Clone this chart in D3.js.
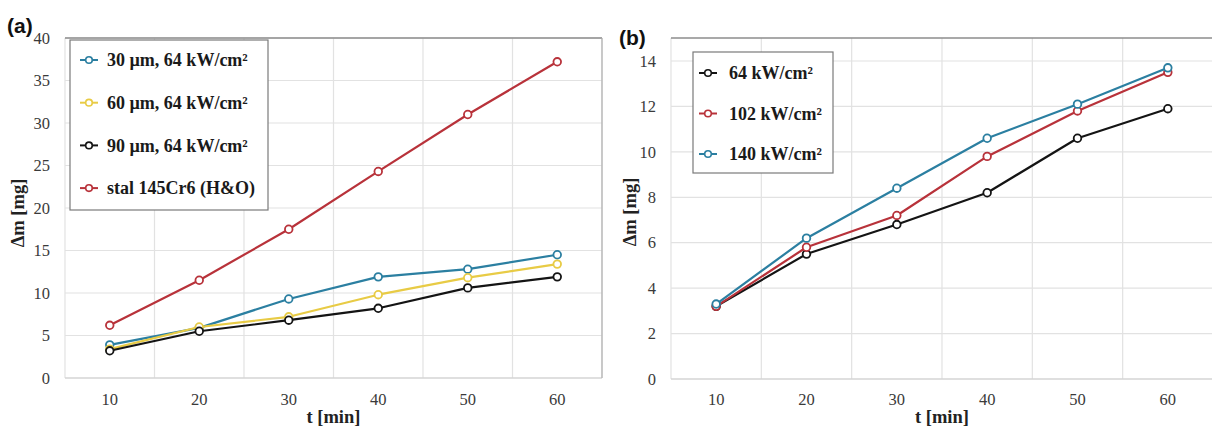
<!DOCTYPE html>
<html><head><meta charset="utf-8">
<script src="https://cdn.jsdelivr.net/npm/d3@7"></script>
<style>html,body{margin:0;padding:0;background:#fff;}svg{display:block;}</style>
</head><body>
<svg id="c" width="1212" height="426"></svg>
<script>
// ---- data ----
const times = [10, 20, 30, 40, 50, 60];
const a30um = [3.9, 5.9, 9.3, 11.9, 12.8, 14.5];
const a60um = [3.4, 6.0, 7.2, 9.8, 11.8, 13.4];
const a90um = [3.2, 5.5, 6.8, 8.2, 10.6, 11.9];
const aSteel = [6.2, 11.5, 17.5, 24.3, 31.0, 37.2];
const b64 = [3.2, 5.5, 6.8, 8.2, 10.6, 11.9];
const b102 = [3.2, 5.8, 7.2, 9.8, 11.8, 13.5];
const b140 = [3.3, 6.2, 8.4, 10.6, 12.1, 13.7];
const yTicksA = [0, 5, 10, 15, 20, 25, 30, 35, 40];
const yTicksB = [0, 2, 4, 6, 8, 10, 12, 14];
const legendA = ["30 µm, 64 kW/cm²", "60 µm, 64 kW/cm²", "90 µm, 64 kW/cm²", "stal 145Cr6 (H&O)"];
const legendB = ["64 kW/cm²", "102 kW/cm²", "140 kW/cm²"];
const colBlue = "#2b7fa1", colYellow = "#e8cb45", colBlack = "#141414", colRed = "#b8323a";

const svg = d3.select("#c");
const serif = "'Liberation Serif','Times New Roman',serif";

function panel(cfg) {
  const g = svg.append("g");
  const x = d3.scaleBand().domain(times).range([cfg.left, cfg.right]).paddingInner(0).paddingOuter(0);
  const y = d3.scaleLinear().domain([0, cfg.ymax]).range([cfg.bottom, cfg.ytop]);
  const cx = d => x(d) + x.bandwidth() / 2;

  // horizontal gridlines
  g.append("g").selectAll("line").data(cfg.yTicks.filter(v => v > 0)).join("line")
    .attr("x1", cfg.left).attr("x2", cfg.right)
    .attr("y1", d => y(d)).attr("y2", d => y(d))
    .attr("stroke", "#e2e2e2").attr("stroke-width", 1.2);
  // vertical gridlines at band edges
  const edges = times.map(t => x(t)).concat([cfg.right]);
  g.append("g").selectAll("line").data(edges).join("line")
    .attr("x1", d => d).attr("x2", d => d)
    .attr("y1", cfg.frameTop).attr("y2", cfg.bottom)
    .attr("stroke", "#e2e2e2").attr("stroke-width", 1.2);
  // bottom axis line
  g.append("line").attr("x1", cfg.left).attr("x2", cfg.right)
    .attr("y1", cfg.bottom).attr("y2", cfg.bottom)
    .attr("stroke", "#d4d4d4").attr("stroke-width", 1.5);
  // frame
  g.append("line").attr("x1", cfg.left).attr("x2", cfg.frameRight)
    .attr("y1", cfg.frameTop).attr("y2", cfg.frameTop)
    .attr("stroke", "#8c8c8c").attr("stroke-width", 1.5);
  if (cfg.rightBorder) {
    g.append("line").attr("x1", cfg.frameRight).attr("x2", cfg.frameRight)
      .attr("y1", cfg.frameTop).attr("y2", cfg.bottom)
      .attr("stroke", "#b0b0b0").attr("stroke-width", 1.2);
  }

  // y tick labels
  g.append("g").selectAll("text").data(cfg.yTicks).join("text")
    .attr("x", cfg.left - 15).attr("y", d => y(d)).attr("dy", "0.35em")
    .attr("text-anchor", "end").attr("font-family", serif).attr("font-size", 16.5)
    .attr("fill", "#3a3a3a").text(d => d);
  // x tick labels
  g.append("g").selectAll("text").data(times).join("text")
    .attr("x", d => cx(d)).attr("y", 399).attr("dy", "0.35em")
    .attr("text-anchor", "middle").attr("font-family", serif).attr("font-size", 16.5)
    .attr("fill", "#3a3a3a").text(d => d);
  // axis titles
  g.append("text").attr("x", (cfg.left + cfg.right) / 2).attr("y", 417).attr("dy", "0.35em")
    .attr("text-anchor", "middle").attr("font-family", serif).attr("font-size", 18.5)
    .attr("font-weight", "bold").attr("fill", "#222").text("t [min]");
  g.append("text").attr("transform", `translate(${cfg.ytitleX},${cfg.ytitleY}) rotate(-90)`)
    .attr("dy", "0.35em").attr("text-anchor", "middle").attr("font-family", serif)
    .attr("font-size", 18.5).attr("font-weight", "bold").attr("fill", "#222").text("Δm [mg]");
  // panel label
  g.append("text").attr("x", cfg.labelX).attr("y", cfg.labelY).attr("dy", "0.35em")
    .attr("font-family", "'Liberation Sans',Arial,sans-serif").attr("font-size", 21)
    .attr("font-weight", "bold").attr("fill", "#111").text(cfg.label);

  // series
  const line = d3.line().x((d, i) => cx(times[i])).y(d => y(d));
  cfg.series.forEach(s => {
    g.append("path").datum(s.values).attr("d", line).attr("fill", "none")
      .attr("stroke", s.color).attr("stroke-width", 2.2).attr("stroke-linejoin", "round");
    g.append("g").selectAll("circle").data(s.values).join("circle")
      .attr("cx", (d, i) => cx(times[i])).attr("cy", d => y(d)).attr("r", 3.8)
      .attr("fill", "#fff").attr("stroke", s.color).attr("stroke-width", 1.8);
  });

  // legend
  const L = cfg.legend;
  g.append("rect").attr("x", L.x).attr("y", L.y).attr("width", L.w).attr("height", L.h)
    .attr("fill", "#fff").attr("stroke", "#7a7a7a").attr("stroke-width", 1.2);
  const items = g.append("g").selectAll("g").data(L.items).join("g")
    .attr("transform", (d, i) => `translate(0,${L.firstY + i * L.step})`);
  items.append("line").attr("x1", L.symX - 9).attr("x2", L.symX + 9).attr("y1", 0).attr("y2", 0)
    .attr("stroke", d => d.color).attr("stroke-width", 2);
  items.append("circle").attr("cx", L.symX).attr("cy", 0).attr("r", 3.3)
    .attr("fill", "#fff").attr("stroke", d => d.color).attr("stroke-width", 1.6);
  items.append("text").attr("x", L.textX).attr("y", 0).attr("dy", "0.35em")
    .attr("font-family", serif).attr("font-size", 18).attr("font-weight", "bold")
    .attr("fill", "#1a1a1a").text(d => d.label);
}

panel({
  left: 65, right: 602, frameRight: 602, rightBorder: true, frameTop: 38,
  ytop: 38, bottom: 378, ymax: 40, yTicks: yTicksA,
  ytitleX: 18, ytitleY: 213, label: "(a)", labelX: 7, labelY: 26,
  series: [
    { values: a30um, color: colBlue },
    { values: a60um, color: colYellow },
    { values: a90um, color: colBlack },
    { values: aSteel, color: colRed }
  ],
  legend: {
    x: 70, y: 40, w: 198, h: 170, firstY: 60, step: 42.7, symX: 89, textX: 107,
    items: [
      { label: legendA[0], color: colBlue },
      { label: legendA[1], color: colYellow },
      { label: legendA[2], color: colBlack },
      { label: legendA[3], color: colRed }
    ]
  }
});

panel({
  left: 671, right: 1213, frameRight: 1212, rightBorder: false, frameTop: 38,
  ytop: 61, bottom: 379, ymax: 14, yTicks: yTicksB,
  ytitleX: 630, ytitleY: 212, label: "(b)", labelX: 619, labelY: 38,
  series: [
    { values: b64, color: colBlack },
    { values: b102, color: colRed },
    { values: b140, color: colBlue }
  ],
  legend: {
    x: 693, y: 52, w: 140, h: 121, firstY: 73, step: 40.5, symX: 708, textX: 729,
    items: [
      { label: legendB[0], color: colBlack },
      { label: legendB[1], color: colRed },
      { label: legendB[2], color: colBlue }
    ]
  }
});
</script>
</body></html>
